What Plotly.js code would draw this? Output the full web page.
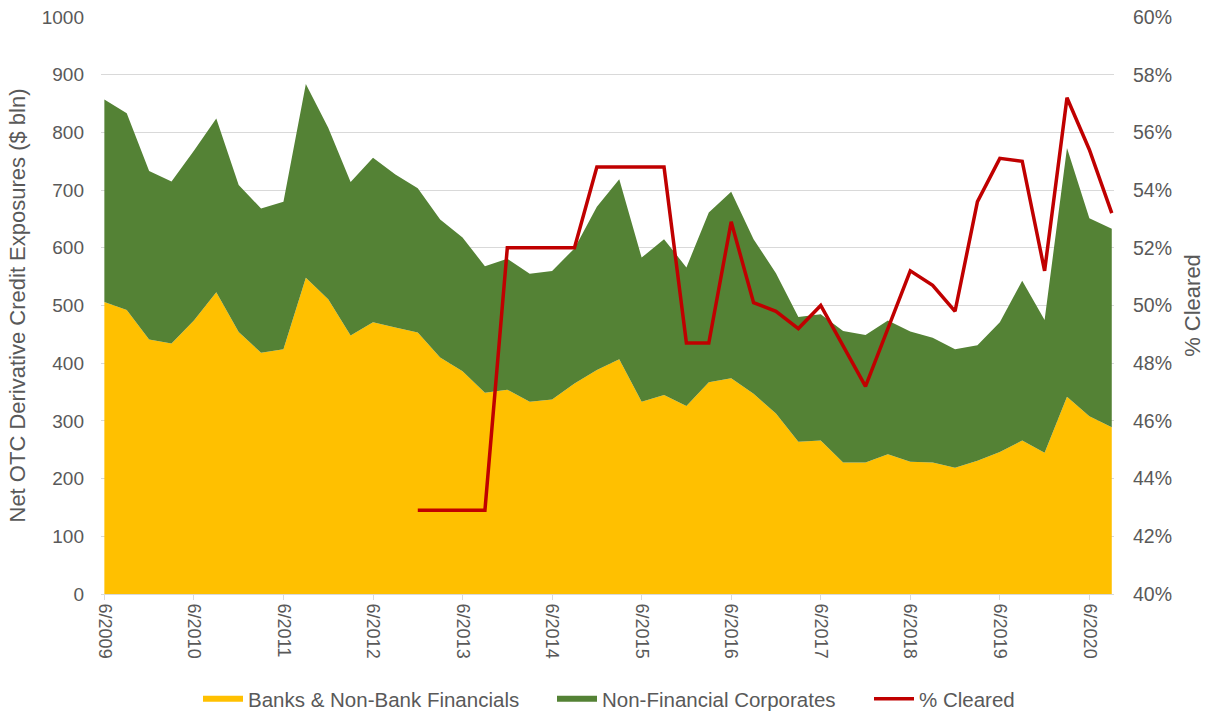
<!DOCTYPE html>
<html>
<head>
<meta charset="utf-8">
<script src="https://cdn.plot.ly/plotly-3.0.1.min.js"></script>
<style>html,body{margin:0;padding:0;background:#fff;}#chart{width:1209px;height:713px;}</style>
</head>
<body>
<div id="chart"></div>
<script>
const quarters = ["6/2009","9/2009","12/2009","3/2010","6/2010","9/2010","12/2010","3/2011","6/2011","9/2011","12/2011","3/2012","6/2012","9/2012","12/2012","3/2013","6/2013","9/2013","12/2013","3/2014","6/2014","9/2014","12/2014","3/2015","6/2015","9/2015","12/2015","3/2016","6/2016","9/2016","12/2016","3/2017","6/2017","9/2017","12/2017","3/2018","6/2018","9/2018","12/2018","3/2019","6/2019","9/2019","12/2019","3/2020","6/2020","9/2020"];

const banksFinancials = [506,492,441,434,474,523,454,418,424,548,511,448,471,462,453,410,386,349,354,333,337,365,388,407,333,345,326,367,374,347,313,264,266,228,228,242,229,228,219,231,246,266,245,342,308,289];

const nonFinancialCorporates = [351,341,292,281,294,301,255,250,256,336,297,266,285,265,250,239,232,219,227,222,223,234,283,312,250,270,240,294,323,268,243,216,219,228,221,232,226,216,205,200,225,277,230,431,343,344];

const pctCleared = [null,null,null,null,null,null,null,null,null,null,null,null,null,null,42.9,42.9,42.9,42.9,52.0,52.0,52.0,52.0,54.8,54.8,54.8,54.8,48.7,48.7,52.9,50.1,49.8,49.2,50.0,48.6,47.2,49.2,51.2,50.7,49.8,53.6,55.1,55.0,51.2,57.2,55.4,53.2];

const tickLabels = ["6/2009","6/2010","6/2011","6/2012","6/2013","6/2014","6/2015","6/2016","6/2017","6/2018","6/2019","6/2020"];

const FONT = '"Liberation Sans", Arial, sans-serif';
const GREY = '#595959';

const traces = [
  {
    x: quarters, y: banksFinancials, name: 'Banks & Non-Bank Financials',
    type: 'scatter', mode: 'none', stackgroup: 'one', legend: 'legend',
    fillcolor: '#FFC000', line: {width: 0}, hoverinfo: 'x+y'
  },
  {
    x: quarters, y: nonFinancialCorporates, name: 'Non-Financial Corporates',
    type: 'scatter', mode: 'none', stackgroup: 'one', legend: 'legend2',
    fillcolor: '#548235', line: {width: 0}, hoverinfo: 'x+y'
  },
  {
    x: quarters, y: pctCleared, name: '% Cleared', yaxis: 'y2', legend: 'legend3',
    type: 'scatter', mode: 'lines', connectgaps: false,
    line: {color: '#C00000', width: 3.5}
  }
];

const ML = 101, MR = 95, PW = 1209 - ML - MR;
function legendAt(px) {
  return {
    orientation: 'h', x: (px - ML) / PW, xanchor: 'left', y: -0.182, yanchor: 'middle',
    font: {family: FONT, size: 20.5, color: GREY}, itemwidth: 40,
    bgcolor: 'rgba(0,0,0,0)', borderwidth: 0
  };
}

const layout = {
  width: 1209, height: 713,
  margin: {l: ML, r: MR, t: 17, b: 119, autoexpand: false},
  paper_bgcolor: '#fff', plot_bgcolor: '#fff',
  font: {family: FONT, size: 19, color: GREY},
  showlegend: true,
  legend: legendAt(203 - 5),
  legend2: legendAt(557 - 5),
  legend3: legendAt(874 - 5),
  xaxis: {
    type: 'category', categoryorder: 'array', categoryarray: quarters,
    range: [-0.15, 45.1], automargin: false,
    tickvals: tickLabels, ticktext: tickLabels, tickangle: 90,
    ticks: 'outside', ticklen: 5, tickcolor: '#d9d9d9',
    showline: true, linecolor: '#d9d9d9', linewidth: 1,
    showgrid: false, zeroline: false,
    tickfont: {family: FONT, size: 18, color: GREY}
  },
  yaxis: {
    range: [0, 1000], dtick: 100, tick0: 0, automargin: false,
    showgrid: true, gridcolor: '#d9d9d9', gridwidth: 1,
    zeroline: false, showline: false, ticks: '',
    ticklabelstandoff: 16,
    tickfont: {family: FONT, size: 19, color: GREY},
    title: {text: 'Net OTC Derivative Credit Exposures ($ bln)', font: {family: FONT, size: 22, color: GREY}, standoff: 10}
  },
  yaxis2: {
    overlaying: 'y', side: 'right', automargin: false,
    range: [40, 60], dtick: 2, tick0: 40, ticksuffix: '%',
    showgrid: false, zeroline: false, showline: false, ticks: '',
    ticklabelstandoff: 18,
    tickfont: {family: FONT, size: 19.5, color: GREY},
    title: {text: '% Cleared', font: {family: FONT, size: 22, color: GREY}, standoff: 13}
  }
};

Plotly.newPlot('chart', traces, layout, {displayModeBar: false, staticPlot: true});
</script>
</body>
</html>
